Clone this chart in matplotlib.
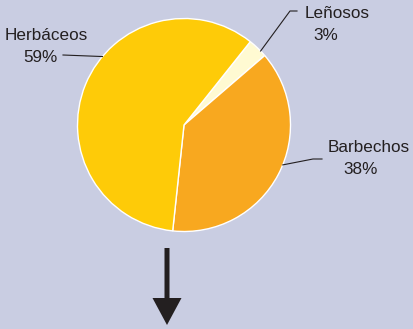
import numpy as np
import matplotlib.pyplot as plt
from matplotlib.patches import FancyArrow

labels = ["Leñosos", "Barbechos", "Herbáceos"]
shares = [3, 38, 59]
colors = ["#fffad2", "#f8a81f", "#fecb08"]
bg = "#c9cde2"
ink = "#231f20"

W, H = 413, 329
fig = plt.figure(figsize=(W / 100, H / 100), dpi=100, facecolor=bg)
ax = fig.add_axes([0, 0, 1, 1])

cx, cy, r = 184, H - 125, 106.5
ax.pie(shares, colors=colors, startangle=51.5, counterclock=False,
       center=(cx, cy), radius=r, frame=True,
       wedgeprops=dict(edgecolor="white", linewidth=1.0))
ax.set_xlim(0, W)
ax.set_ylim(0, H)
ax.axis("off")

def edge(angle):
    a = np.radians(angle)
    return cx + r * np.cos(a), cy + r * np.sin(a)

font = dict(family="Liberation Sans", fontsize=12.3, color=ink)

# Herbáceos
x0, y0 = edge(140)
ax.plot([x0, 63], [y0, H - 55], color=ink, lw=0.8)
ax.text(46, H - 35, "Herbáceos", ha="center", va="center", **font)
ax.text(40, H - 57, "59%", ha="center", va="center", **font)

# Leñosos
x0, y0 = edge(44)
ax.plot([x0, 290, 297], [y0, H - 11, H - 11], color=ink, lw=0.8)
ax.text(337, H - 14, "Leñosos", ha="center", va="center", **font)
ax.text(326, H - 36, "3%", ha="center", va="center", **font)

# Barbechos
x0, y0 = edge(-22)
ax.plot([x0, 313, 322], [y0, H - 159, H - 159], color=ink, lw=0.8)
ax.text(369, H - 148, "Barbechos", ha="center", va="center", **font)
ax.text(361, H - 170, "38%", ha="center", va="center", **font)

ax.add_patch(FancyArrow(167, H - 248, 0, -(325 - 248), width=5,
                        head_width=29, head_length=27,
                        length_includes_head=True, color=ink, lw=0))

fig.savefig("out.png", dpi=100, facecolor=bg)
